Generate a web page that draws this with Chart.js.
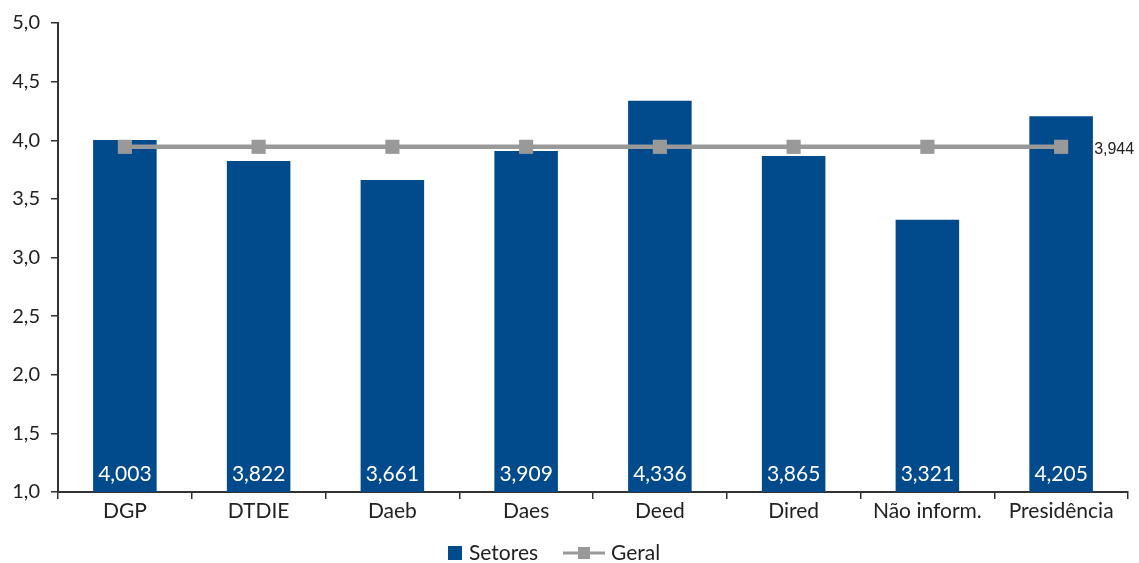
<!DOCTYPE html>
<html>
<head>
<meta charset="utf-8">
<script src="https://cdn.jsdelivr.net/npm/chart.js@4"></script>
<style>
  html, body { margin: 0; padding: 0; background: #fff; }
  #wrap { width: 1139px; height: 563px; }
</style>
</head>
<body>
<div id="wrap"><canvas id="chart"></canvas></div>
<script>
const categories = ["DGP", "DTDIE", "Daeb", "Daes", "Deed", "Dired", "Não inform.", "Presidência"];
const setores = [4.003, 3.822, 3.661, 3.909, 4.336, 3.865, 3.321, 4.205];
const geral = [3.944, 3.944, 3.944, 3.944, 3.944, 3.944, 3.944, 3.944];
const yTicks = [1.0, 1.5, 2.0, 2.5, 3.0, 3.5, 4.0, 4.5, 5.0];

const fmt3 = v => v.toFixed(3).replace(".", ",");
const fmt1 = v => v.toFixed(1).replace(".", ",");

const FONT = "Lato, 'Noto Sans', sans-serif";
const BLUE = "#014a8c";
const GRAY = "#999999";

// values inside the bars + label at last point of the line
const labelsPlugin = {
  id: "labels",
  afterDatasetsDraw(chart) {
    const ctx = chart.ctx;
    const yScale = chart.scales.y;
    ctx.save();
    ctx.fillStyle = "#ffffff";
    ctx.font = "21px " + FONT;
    ctx.textAlign = "center";
    ctx.textBaseline = "alphabetic";
    chart.getDatasetMeta(0).data.forEach((bar, i) => {
      ctx.fillText(fmt3(setores[i]), bar.x, yScale.bottom - 11);
    });
    const pts = chart.getDatasetMeta(1).data;
    const last = pts[pts.length - 1];
    ctx.fillStyle = "#222";
    ctx.font = "16px 'Liberation Sans Narrow', 'Liberation Sans', sans-serif";
    ctx.textAlign = "left";
    ctx.textBaseline = "middle";
    ctx.fillText(fmt3(geral[geral.length - 1]), last.x + 33, last.y + 3);
    ctx.restore();
  }
};

// bottom legend
const legendPlugin = {
  id: "customLegend",
  afterDraw(chart) {
    const ctx = chart.ctx;
    const cy = 553;
    ctx.save();
    ctx.font = "21px " + FONT;
    ctx.textBaseline = "middle";
    ctx.fillStyle = BLUE;
    ctx.fillRect(448, cy - 7, 14, 14);
    ctx.fillStyle = "#222";
    ctx.textAlign = "left";
    ctx.fillText("Setores", 469, cy);
    ctx.strokeStyle = GRAY;
    ctx.lineWidth = 3;
    ctx.beginPath();
    ctx.moveTo(563, cy);
    ctx.lineTo(605, cy);
    ctx.stroke();
    ctx.fillStyle = GRAY;
    ctx.fillRect(578, cy - 6, 12, 12);
    ctx.fillStyle = "#222";
    ctx.fillText("Geral", 611, cy);
    ctx.restore();
  }
};

new Chart(document.getElementById("chart"), {
  data: {
    labels: categories,
    datasets: [
      {
        type: "bar",
        label: "Setores",
        data: setores,
        backgroundColor: BLUE,
        categoryPercentage: 1,
        barPercentage: 0.475,
        order: 1
      },
      {
        type: "line",
        label: "Geral",
        data: geral,
        borderColor: GRAY,
        backgroundColor: GRAY,
        borderWidth: 4.5,
        pointStyle: "rect",
        pointRadius: 10,
        pointBackgroundColor: GRAY,
        pointBorderWidth: 0,
        order: 0
      }
    ]
  },
  options: {
    responsive: true,
    maintainAspectRatio: false,
    animation: false,
    layout: { padding: { top: 23, right: 11, bottom: 31, left: 0 } },
    plugins: { legend: { display: false }, tooltip: { enabled: false } },
    scales: {
      x: {
        offset: true,
        grid: { display: true, drawOnChartArea: false, offset: true, tickLength: 7, color: "#333", lineWidth: 1.5 },
        border: { color: "#333", width: 2 },
        ticks: { color: "#222", font: { family: FONT, size: 21 }, padding: 0 },
        afterFit: s => { s.height = 40; }
      },
      y: {
        min: 1,
        max: 5,
        afterBuildTicks: s => { s.ticks = yTicks.map(v => ({ value: v })); },
        grid: { display: true, drawOnChartArea: false, tickLength: 7, color: "#333", lineWidth: 1.5 },
        border: { color: "#333", width: 2 },
        ticks: { color: "#222", font: { family: FONT, size: 20 }, padding: 11, callback: v => fmt1(v) },
        afterFit: s => { s.width = 58; }
      }
    }
  },
  plugins: [labelsPlugin, legendPlugin]
});
</script>
</body>
</html>
